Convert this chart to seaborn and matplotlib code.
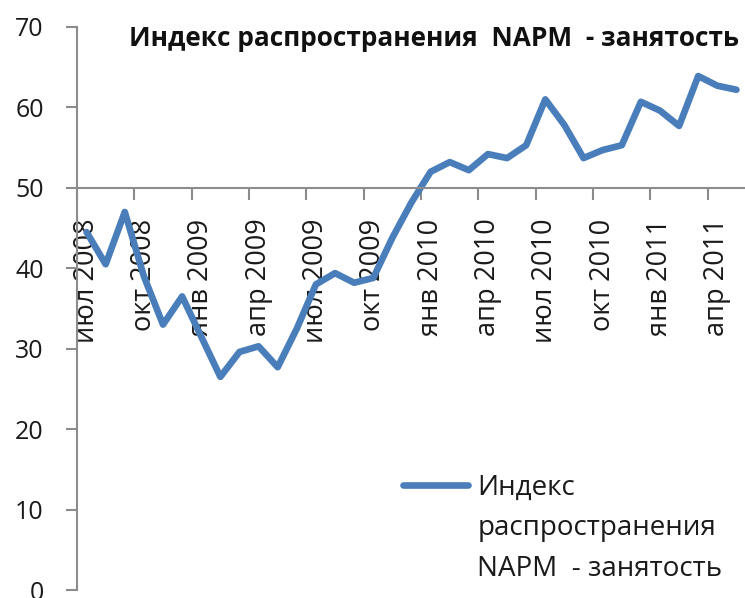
import numpy as np
import pandas as pd
import matplotlib
matplotlib.use("Agg")
import matplotlib.pyplot as plt
from matplotlib.lines import Line2D
import seaborn as sns

# ---- data ----
months = ["июл 2008", "авг 2008", "сен 2008", "окт 2008", "ноя 2008", "дек 2008",
          "янв 2009", "фев 2009", "мар 2009", "апр 2009", "май 2009", "июн 2009",
          "июл 2009", "авг 2009", "сен 2009", "окт 2009", "ноя 2009", "дек 2009",
          "янв 2010", "фев 2010", "мар 2010", "апр 2010", "май 2010", "июн 2010",
          "июл 2010", "авг 2010", "сен 2010", "окт 2010", "ноя 2010", "дек 2010",
          "янв 2011", "фев 2011", "мар 2011", "апр 2011", "май 2011"]
values = [44.5, 40.5, 47.0, 39.0, 33.0, 36.5,
          31.5, 26.5, 29.6, 30.3, 27.7, 32.5,
          38.0, 39.4, 38.2, 38.8, 43.8, 48.2,
          52.0, 53.2, 52.2, 54.2, 53.7, 55.3,
          61.0, 57.8, 53.7, 54.7, 55.3, 60.7,
          59.6, 57.7, 63.9, 62.7, 62.2]
tick_labels = months[::3]
y_ticks = [0, 10, 20, 30, 40, 50, 60, 70]
title = "Индекс распространения  NAPM  - занятость"
legend_lines = ["Индекс", "распространения", "NAPM  - занятость"]

df = pd.DataFrame({"idx": np.arange(len(values)), "value": values})

sns.set_style("white")
plt.rcParams["font.family"] = ["Open Sans", "DejaVu Sans"]

W, H = 745, 598
fig = plt.figure(figsize=(W / 100, H / 100), dpi=100)
ax = fig.add_axes([77 / W, 8 / H, (746 - 77) / W, (590 - 27) / H])

line_color = "#4A7EBB"
sns.lineplot(data=df, x="idx", y="value", ax=ax, color=line_color, linewidth=4.8,
             legend=False)
for ln in ax.lines:
    ln.set_solid_joinstyle("round")
    ln.set_solid_capstyle("round")

ax.set_xlim(-0.5, len(values) - 0.5)
ax.set_ylim(0, 70)
ax.set_xlabel("")
ax.set_ylabel("")

spine_color = "#8C8C8C"
for s in ["top", "right"]:
    ax.spines[s].set_visible(False)
ax.spines["bottom"].set_position(("data", 50))
for s in ["left", "bottom"]:
    ax.spines[s].set_color(spine_color)
    ax.spines[s].set_linewidth(1.5)

# major ticks at month boundaries (every quarter), minor ticks carry the labels
ax.set_xticks(np.arange(-0.5, len(values), 3))
ax.set_xticklabels([])
ax.set_xticks(np.arange(0, len(values), 3), minor=True)
ax.set_xticklabels(tick_labels, minor=True, rotation=90, va="top", ha="center",
                   fontsize=19.5, color="#1a1a1a")
ax.tick_params(axis="x", which="major", direction="out", length=8.5, width=1.5,
               color=spine_color, bottom=True)
ax.tick_params(axis="x", which="minor", length=0, pad=22)

ax.set_yticks(y_ticks)
ax.set_yticklabels([str(v) for v in y_ticks], fontsize=18, color="#1a1a1a")
ax.tick_params(axis="y", direction="out", length=8, width=1.5, color=spine_color,
               pad=16, left=True)

fig.text(434 / W, 1 - 38 / H, title, ha="center", va="center", fontsize=18.9,
         fontweight="bold", color="#111111")

handles = [Line2D([], [], color=line_color, linewidth=4.8),
           Line2D([], [], color="none"), Line2D([], [], color="none")]
ax.legend(handles, legend_lines, loc="upper left",
          bbox_to_anchor=(403 / W, 1 - 474 / H), bbox_transform=fig.transFigure,
          frameon=False, fontsize=20, handlelength=2.35, handletextpad=0.32,
          labelspacing=0.45, borderpad=0, borderaxespad=0, labelcolor="#1a1a1a")

fig.savefig("out.png", dpi=100)
